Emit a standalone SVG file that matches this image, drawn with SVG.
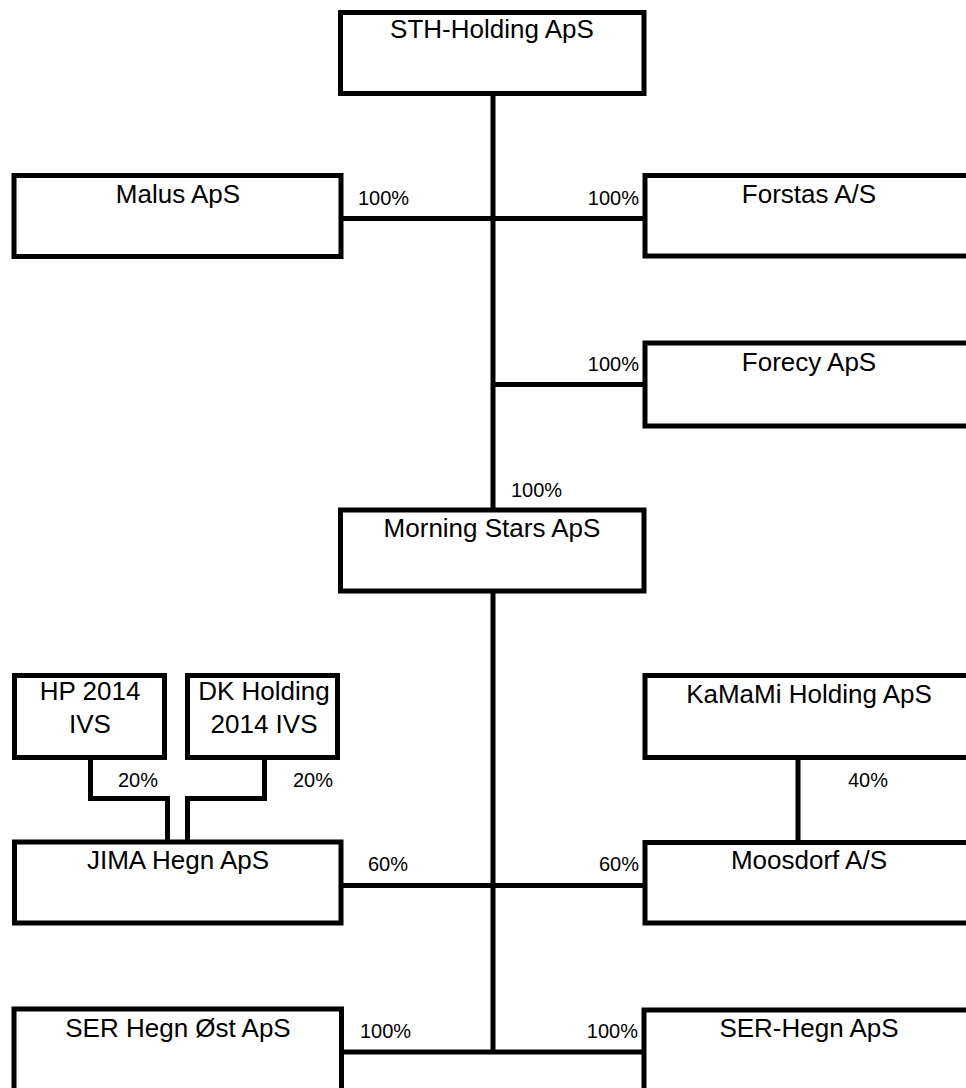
<svg xmlns="http://www.w3.org/2000/svg" width="966" height="1088" viewBox="0 0 966 1088">
<style>
.box{fill:#fff;stroke:#000;stroke-width:5}
.ln{fill:none;stroke:#000;stroke-width:5}
.nm{font-family:"Liberation Sans",Arial,sans-serif;font-size:26px;fill:#000;text-anchor:middle}
.pc{font-family:"Liberation Sans",Arial,sans-serif;font-size:20px;fill:#000}
.end{text-anchor:end}
</style>
<rect width="966" height="1088" fill="#fff"/>
<g id="connectors">
<path class="ln" d="M493,93 V510 M493,591 V1052"/>
<path class="ln" d="M341,218.5 H645"/>
<path class="ln" d="M493,384.5 H645"/>
<path class="ln" d="M341,885.5 H645"/>
<path class="ln" d="M341,1052 H644"/>
<path class="ln" d="M90.5,757.5 V798.5 H167.5 V842"/>
<path class="ln" d="M264.5,757.5 V798.5 H187.5 V842"/>
<path class="ln" d="M798,757.5 V842.5"/>
<text class="pc" x="358" y="205">100%</text>
<text class="pc end" x="639" y="205">100%</text>
<text class="pc end" x="639" y="371">100%</text>
<text class="pc" x="511" y="497">100%</text>
<text class="pc" x="118" y="787">20%</text>
<text class="pc" x="293" y="787">20%</text>
<text class="pc" x="848" y="787">40%</text>
<text class="pc" x="368" y="871">60%</text>
<text class="pc end" x="639" y="871">60%</text>
<text class="pc" x="360" y="1038">100%</text>
<text class="pc end" x="638" y="1038">100%</text>
</g>
<g id="sth"><rect class="box" x="340.5" y="12.5" width="303.5" height="81"/><text class="nm" x="492" y="38">STH-Holding ApS</text></g>
<g id="malus"><rect class="box" x="14" y="175.5" width="327" height="81"/><text class="nm" x="178" y="203">Malus ApS</text></g>
<g id="forstas"><rect class="box" x="645" y="175.5" width="328" height="80.5"/><text class="nm" x="809" y="203">Forstas A/S</text></g>
<g id="forecy"><rect class="box" x="645" y="343" width="328" height="83"/><text class="nm" x="809" y="371">Forecy ApS</text></g>
<g id="morning"><rect class="box" x="340.5" y="510" width="303.5" height="81"/><text class="nm" x="492" y="537">Morning Stars ApS</text></g>
<g id="hp"><rect class="box" x="14.5" y="675.5" width="150" height="82"/><text class="nm" x="90" y="700">HP 2014</text><text class="nm" x="90" y="733">IVS</text></g>
<g id="dk"><rect class="box" x="187.5" y="675.5" width="150" height="82"/><text class="nm" x="264" y="700">DK Holding</text><text class="nm" x="264" y="733">2014 IVS</text></g>
<g id="kamami"><rect class="box" x="645" y="675.5" width="328" height="82"/><text class="nm" x="809" y="703">KaMaMi Holding ApS</text></g>
<g id="jima"><rect class="box" x="14.5" y="842" width="326.5" height="81"/><text class="nm" x="178" y="869">JIMA Hegn ApS</text></g>
<g id="moosdorf"><rect class="box" x="645" y="842.5" width="328" height="80.5"/><text class="nm" x="809" y="869">Moosdorf A/S</text></g>
<g id="serost"><rect class="box" x="14" y="1009" width="327.5" height="90"/><text class="nm" x="178" y="1037">SER Hegn Øst ApS</text></g>
<g id="serhegn"><rect class="box" x="644" y="1010" width="329" height="90"/><text class="nm" x="809" y="1037">SER-Hegn ApS</text></g>
</svg>
